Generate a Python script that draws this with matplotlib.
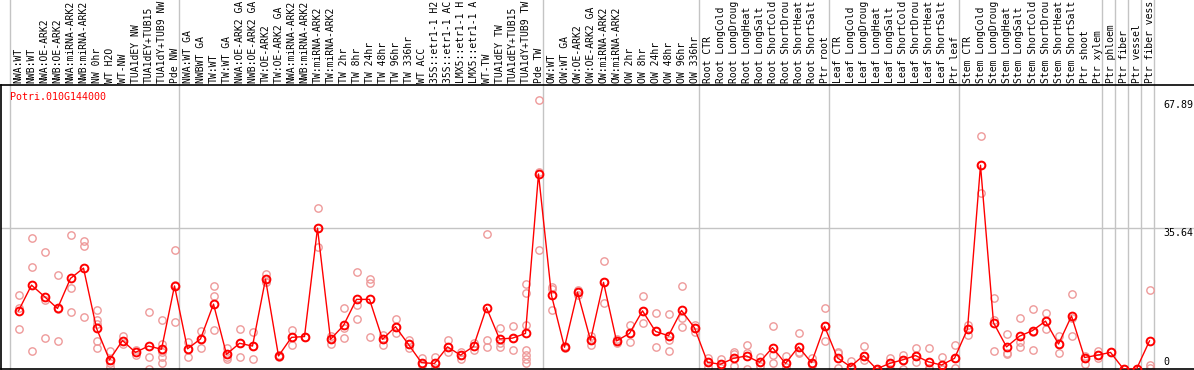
import matplotlib
matplotlib.use("Agg")
import matplotlib.pyplot as plt
import matplotlib.transforms as mtransforms

gene = "Potri.010G144000"

samples = [
    "NWA:WT", "NWB:WT", "NWA:OE-ARK2", "NWB:OE-ARK2", "NWA:miRNA-ARK2", "NWB:miRNA-ARK2",
    "NW 0hr", "WT H2O", "WT-NW", "TUA1dEY NW", "TUA1dEY+TUB15", "TUA1dY+TUB9 NW", "Pde NW",
    "NWA:WT GA", "NWBWT GA", "TW:WT", "TW:WT GA", "NWA:OE-ARK2 GA", "NWB:OE-ARK2 GA",
    "TW:OE-ARK2", "TW:OE-ARK2 GA", "NWA:miRNA-ARK2", "NWB:miRNA-ARK2", "TW:miRNA-ARK2",
    "TW:miRNA-ARK2", "TW 2hr", "TW 8hr", "TW 24hr", "TW 48hr", "TW 96hr", "TW 336hr",
    "WT ACC", "35S::etr1-1 H2O", "35S::etr1-1 ACC", "LMX5::etr1-1 H2O", "LMX5::etr1-1 ACC",
    "WT-TW", "TUA1dEY TW", "TUA1dEY+TUB15", "TUA1dY+TUB9 TW", "Pde TW",
    "OW:WT", "OW:WT GA", "OW:OE-ARK2", "OW:OE-ARK2 GA", "OW:miRNA-ARK2", "OW:miRNA-ARK2",
    "OW 2hr", "OW 8hr", "OW 24hr", "OW 48hr", "OW 96hr", "OW 336hr",
    "Root CTR", "Root LongCold", "Root LongDrought", "Root LongHeat", "Root LongSalt",
    "Root ShortCold", "Root ShortDrought", "Root ShortHeat", "Root ShortSalt", "Ptr root",
    "Leaf CTR", "Leaf LongCold", "Leaf LongDrought", "Leaf LongHeat", "Leaf LongSalt",
    "Leaf ShortCold", "Leaf ShortDrought", "Leaf ShortHeat", "Leaf ShortSalt", "Ptr leaf",
    "Stem CTR", "Stem LongCold", "Stem LongDrought", "Stem LongHeat", "Stem LongSalt",
    "Stem ShortCold", "Stem ShortDrought", "Stem ShortHeat", "Stem ShortSalt", "Ptr shoot",
    "Ptr xylem", "Ptr phloem", "Ptr fiber", "Ptr vessel", "Ptr fiber vessel",
]

# index of the first sample of each group (plus the end)
group_starts = [0, 13, 41, 53, 63, 73, 84, 85, 86, 87, 88]

means = [
    14.7, 21.2, 18.3, 15.3, 22.9, 25.5, 10.3, 2.3, 7.2, 4.2, 5.8, 5.0, 21.0,
    5.1, 7.6, 16.4, 3.7, 6.5, 5.8, 22.7, 3.3, 8.0, 8.2, 35.6, 7.5, 11.0, 17.6,
    17.6, 7.5, 10.7, 6.2, 1.6, 1.4, 5.6, 3.5, 5.7, 15.5, 7.6, 7.8, 9.0, 49.3,
    18.6, 5.5, 19.4, 7.3, 21.9, 7.1, 9.0, 14.7, 9.5, 8.4, 14.8, 10.4,
    1.7, 1.2, 2.7, 3.3, 1.7, 5.4, 1.4, 5.6, 1.6, 10.8,
    2.8, 0.6, 3.4, 0.0, 1.4, 2.3, 3.4, 1.8, 1.0, 2.7,
    10.1, 51.5, 11.7, 5.6, 8.3, 9.7, 12.1, 6.3, 13.4, 2.9, 3.5,
    4.2, 0.0, 0.0, 7.1,
]

replicates = [
    [18.7, 15.3, 10.1], [33.0, 25.8, 4.5], [29.7, 17.4, 7.8], [23.7, 15.1, 7.1],
    [33.9, 20.6, 14.3], [32.4, 31.1, 13.1], [14.9, 12.4, 11.5, 7.2, 5.2],
    [4.5, 2.3, 1.4, 0.4], [8.4, 6.3], [4.8, 3.5], [14.3, 3.1, 0.0],
    [12.4, 6.3, 4.4, 3.1, 1.4], [30.0, 21.2, 11.8],
    [6.7, 5.1, 3.0], [9.7, 7.6, 5.4], [21.0, 18.4, 9.9], [5.4, 3.1, 2.6],
    [10.1, 6.5, 3.1], [9.3, 5.8, 2.5], [23.9, 22.1, 22.1], [3.5, 3.3, 3.0],
    [9.9, 8.0, 6.0], [8.2, 8.2], [40.6, 35.6, 30.8], [8.4, 7.5, 6.3],
    [15.3, 10.3, 7.8], [24.5, 16.2, 12.6], [22.7, 21.7, 8.2], [8.6, 7.5, 6.1],
    [12.6, 10.7, 9.0], [7.3, 6.2, 5.4], [2.9, 1.6, 1.0], [3.1, 1.4, 0.2],
    [7.3, 5.6, 4.2], [4.4, 3.5, 2.5], [6.6, 4.8], [34.1, 7.3, 5.6],
    [10.3, 6.5, 5.6], [10.9, 7.8, 4.8], [21.5, 19.1, 11.1, 4.8, 3.5, 2.5, 1.4],
    [67.89, 49.9, 30.1],
    [20.8, 20.1, 14.9], [5.8, 5.5, 5.2], [20.0, 19.4, 18.8], [8.4, 7.3, 6.1],
    [27.2, 21.9, 16.6], [7.6, 7.1, 6.6], [11.1, 9.0, 6.8], [18.4, 14.7, 11.7],
    [14.1, 9.5, 5.6], [13.9, 8.4, 7.3, 4.5], [21.0, 12.8, 10.7], [11.1, 10.4, 9.4],
    [2.9, 1.7, 0.6], [2.6, 1.2, 0.2], [4.2, 3.8, 0.8], [6.0, 4.0, 0.0],
    [3.1, 1.7, 0.8], [10.8, 3.5, 1.4], [3.3, 1.4, 0.4], [9.1, 4.4, 4.0],
    [2.7, 1.6, 1.0], [15.3, 10.8, 7.1],
    [4.4, 4.0, 0.2], [2.0, 0.6, 0.0], [5.8, 3.4, 2.3], [0.0, 0.0], [2.7, 1.4, 0.0],
    [3.5, 2.3, 0.0], [5.2, 3.4, 1.8], [5.4, 0.3, 0.0], [3.1, 0.0, 0.0], [6.1, 2.7, 0.3],
    [11.1, 10.1, 8.6], [58.9, 51.5, 44.6], [17.9, 12.5, 4.5], [8.8, 4.0, 3.8],
    [12.8, 6.9, 5.6], [15.2, 9.4, 4.8], [14.2, 12.1, 10.1], [8.3, 6.3, 4.0],
    [19.0, 12.8, 8.4], [3.2, 2.9, 1.3], [4.5, 3.5, 2.7],
    [4.2], [0.0], [0.0], [20.0, 1.0, 0.3],
]

ymax_label = 67.89
ymid_label = 35.64
max_chars = 14  # sample names are cut to this length in the header

W, H = 1194, 370
fig = plt.figure(figsize=(W / 100, H / 100), dpi=100)
# plot area: from 1px to 1194px horizontally, 1px..285px from bottom
ax = fig.add_axes([1 / W, 1 / H, (W - 1) / W, 284 / H])
# sample i sits at 18.5 + 13*i pixels
x0 = (1 - 18.5) / 13
x1 = (W - 18.5) / 13
ax.set_xlim(x0, x1)
ytop = 2 * ymid_label * 284 / 282
ax.set_ylim(0, ytop)

ax.spines["right"].set_visible(False)
for s in ["left", "bottom", "top"]:
    ax.spines[s].set_color("black")
    ax.spines[s].set_linewidth(1.2)
ax.set_xticks([])
ax.set_yticks([])

grid = "#c4c4c4"
ax.axhline(ymid_label, color=grid, lw=1, zorder=0)
top_frac = (H - 1) / 284
for g in group_starts:
    ax.axvline(g - 0.62, ymin=0, ymax=top_frac, color=grid, lw=1, zorder=0, clip_on=False)

xs = list(range(len(samples)))
rx, ry = [], []
for i, vals in enumerate(replicates):
    for v in vals:
        rx.append(i)
        ry.append(v)
ax.plot(rx, ry, "o", ls="none", mfc="none", mec="#ee9a9a", ms=5.3, mew=1.0, zorder=2)
ax.plot(xs, means, "-", color="red", lw=1.0, zorder=3)
ax.plot(xs, means, "o", ls="none", mfc="none", mec="red", ms=5.6, mew=1.4, zorder=4)

mono = "DejaVu Sans Mono"
lab_tr = mtransforms.blended_transform_factory(ax.transData, fig.transFigure)
for i, name in enumerate(samples):
    ax.text(i, 287 / H, name[:max_chars], transform=lab_tr, rotation=90, ha="center",
            va="bottom", fontsize=7.0, family=mono, color="black", clip_on=False)

ax.text(10 / W, (H - 97) / H, gene, transform=fig.transFigure, color="red",
        fontsize=7.2, family=mono, ha="left", va="center")

val_tr = mtransforms.blended_transform_factory(fig.transFigure, ax.transData)
ax.text(1163 / W, ymax_label, f"{ymax_label:.2f}", transform=val_tr, ha="left", va="top",
        fontsize=7.2, family=mono, clip_on=False)
ax.text(1163 / W, ymid_label, f"{ymid_label:.2f}", transform=val_tr, ha="left", va="top",
        fontsize=7.2, family=mono, clip_on=False)
ax.text(1163 / W, 0.6, "0", transform=val_tr, ha="left", va="bottom",
        fontsize=7.2, family=mono, clip_on=False)

fig.savefig("out.png", dpi=100)
